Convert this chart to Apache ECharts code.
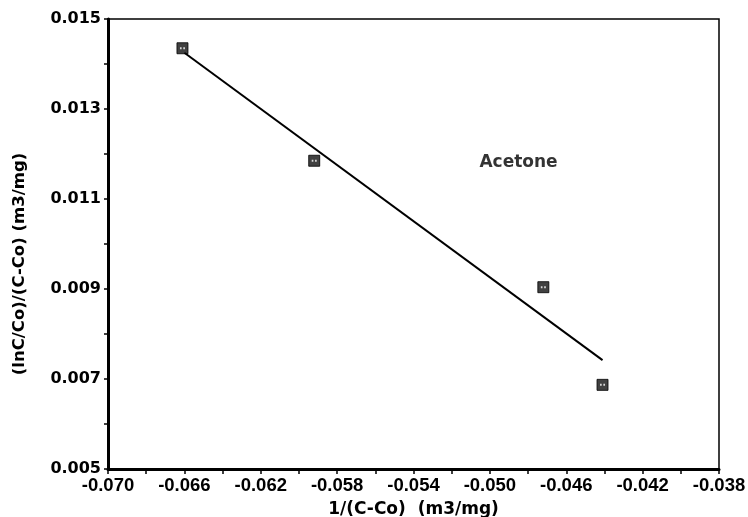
<!DOCTYPE html>
<html><head><meta charset="utf-8">
<script src="https://cdn.jsdelivr.net/npm/echarts@6/dist/echarts.min.js"></script>
<style>html,body{margin:0;padding:0;background:#fff}#c{width:748px;height:517px}</style>
</head><body><div id="c"></div>
<script>
var pointsX = [-0.0661, -0.0592, -0.0472, -0.0441];
var pointsY = [0.01435, 0.01185, 0.00904, 0.00687];
var fitX = [-0.0660, -0.0441];
var fitY = [0.01425, 0.00742];
var labelText = 'Acetone';
var labelPos = [-0.0485, 0.0118];
var xTitle = '1/(C-Co)  (m3/mg)';
var yTitle = '(lnC/Co)/(C-Co) (m3/mg)';

var dv = 'DejaVu Sans';
var lib = 'Liberation Sans';
var chart = echarts.init(document.getElementById('c'));
chart.setOption({
  backgroundColor: '#fff',
  animation: false,
  grid: {left: 108, right: 29, top: 19, bottom: 48, show: true, borderColor: '#000', borderWidth: 1.5,
         containLabel: false, outerBoundsMode: 'none'},
  xAxis: {
    type: 'value', min: -0.070, max: -0.038, interval: 0.002,
    name: xTitle, nameLocation: 'middle', nameGap: 32,
    nameTextStyle: {color: '#000', fontFamily: dv, fontSize: 17, fontWeight: 'bold'},
    axisLine: {lineStyle: {color: '#000', width: 3}},
    axisTick: {length: 5, lineStyle: {color: '#000', width: 1.5}},
    splitLine: {show: false},
    axisLabel: {color: '#000', fontFamily: lib, fontSize: 18.5, fontWeight: 'bold', margin: 7,
      showMinLabel: true, showMaxLabel: true,
      formatter: function (v) { var r = Math.round(v * 1000); return Math.abs(r) % 4 === 2 ? v.toFixed(3) : ''; }}
  },
  yAxis: {
    type: 'value', min: 0.005, max: 0.015, interval: 0.001,
    name: yTitle, nameLocation: 'middle', nameGap: 80,
    nameTextStyle: {color: '#000', fontFamily: dv, fontSize: 16.5, fontWeight: 'bold', padding: [0, 40, 0, 0]},
    axisLine: {lineStyle: {color: '#000', width: 3}},
    axisTick: {length: 4, lineStyle: {color: '#000', width: 1.5}},
    splitLine: {show: false},
    axisLabel: {color: '#000', fontFamily: dv, fontSize: 16, fontWeight: 'bold', margin: 7,
      showMinLabel: true, showMaxLabel: true,
      formatter: function (v) { var r = Math.round(v * 1000); return r % 2 === 1 ? v.toFixed(3) : ''; }}
  },
  series: [
    {type: 'line', data: fitX.map(function (x, i) { return [x, fitY[i]]; }),
     showSymbol: false, lineStyle: {color: '#000', width: 2}, z: 2},
    {type: 'scatter', data: pointsX.map(function (x, i) { return [x, pointsY[i]]; }),
     symbol: 'rect', symbolSize: 11,
     itemStyle: {color: '#111', borderColor: '#000', borderWidth: 1}, z: 3},
    {type: 'scatter', data: pointsX.map(function (x, i) { return [x, pointsY[i]]; }),
     symbol: 'path://M0,0h2v2h-2z M4,0h2v2h-2z', symbolSize: [5, 2], itemStyle: {color: '#fff'}, z: 4},
    {type: 'scatter', data: [labelPos], symbolSize: 0,
     label: {show: true, position: 'inside', formatter: labelText, color: '#000',
       fontFamily: dv, fontSize: 17, fontWeight: 'bold'}, z: 5}
  ]
});
</script></body></html>
